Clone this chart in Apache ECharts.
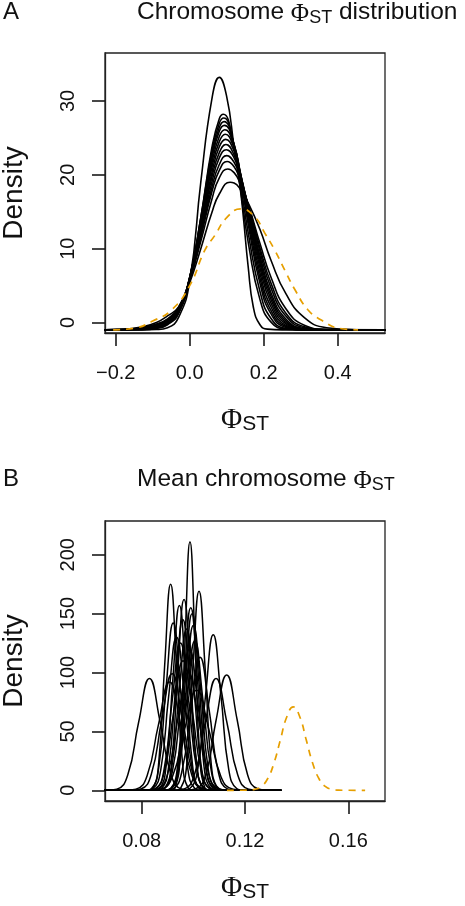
<!DOCTYPE html>
<html><head><meta charset="utf-8">
<script src="https://cdn.jsdelivr.net/npm/echarts@6.0.0/dist/echarts.min.js"></script>
<style>html,body{margin:0;padding:0;background:#fff}#main{width:465px;height:906px}</style>
</head><body><div id="main"></div>
<script>
// ---------- Panel A: chromosome PhiST distribution (density curves, [x, y] points) ----------
const aTallest = [[-0.23,-1],[-0.13,-1],[-0.09,-0.95],[-0.06,-0.7],[-0.03,0.7],[0,5.6],[0.03,19.0],[0.06,30.3],[0.08,33.2],[0.10,30.6],[0.12,23.8],[0.136,18.4],[0.145,14.3],[0.158,7.6],[0.172,2.1],[0.19,-0.3],[0.21,-0.9],[0.25,-1],[0.53,-1]];
const aF00 = [[-0.23,-1],[-0.13,-0.97],[-0.09,-0.8],[-0.06,-0.3],[-0.03,1.2],[0,5.9],[0.03,14.2],[0.06,23.7],[0.08,27.6],[0.091,28.2],[0.12,23.7],[0.136,18.5],[0.16,10.3],[0.19,3.1],[0.22,0.05],[0.26,-0.9],[0.31,-1],[0.53,-1]];
const aF01 = [[-0.23,-1],[-0.13,-0.95],[-0.09,-0.75],[-0.06,-0.2],[-0.03,1.4],[0,6.1],[0.03,14.2],[0.06,23.2],[0.08,27.0],[0.092,27.7],[0.12,24.0],[0.136,19.3],[0.16,11.6],[0.19,4.2],[0.22,0.55],[0.26,-0.81],[0.31,-0.98],[0.53,-1]];
const aF02 = [[-0.23,-1],[-0.13,-0.93],[-0.09,-0.7],[-0.06,-0.1],[-0.03,1.5],[0,6.1],[0.03,14.0],[0.06,22.7],[0.08,26.4],[0.093,27.2],[0.12,24.1],[0.136,20.0],[0.16,12.8],[0.19,5.3],[0.22,1.16],[0.26,-0.67],[0.31,-0.99],[0.53,-1]];
const aF03 = [[-0.23,-1],[-0.13,-0.92],[-0.09,-0.65],[-0.06,-0.05],[-0.03,1.6],[0,6.1],[0.03,13.7],[0.06,22.2],[0.08,25.9],[0.094,26.7],[0.12,24.1],[0.136,20.3],[0.16,13.5],[0.19,6.0],[0.22,1.6],[0.26,-0.54],[0.31,-0.97],[0.53,-1]];
const aF04 = [[-0.23,-1],[-0.13,-0.9],[-0.09,-0.6],[-0.06,0],[-0.03,1.7],[0,6.1],[0.03,13.4],[0.06,21.6],[0.08,25.2],[0.095,26.1],[0.12,23.9],[0.136,20.5],[0.16,14.1],[0.19,6.7],[0.22,2.1],[0.26,-0.38],[0.31,-0.96],[0.53,-1]];
const aF05 = [[-0.23,-1],[-0.13,-0.88],[-0.09,-0.55],[-0.06,0.1],[-0.03,1.7],[0,6.0],[0.03,13.2],[0.06,21.0],[0.08,24.5],[0.096,25.5],[0.12,23.6],[0.136,20.5],[0.16,14.5],[0.19,7.4],[0.22,2.6],[0.26,-0.19],[0.31,-0.93],[0.53,-1]];
const aF06 = [[-0.23,-1],[-0.13,-0.87],[-0.09,-0.5],[-0.06,0.15],[-0.03,1.7],[0,6.0],[0.03,12.8],[0.06,20.3],[0.08,23.8],[0.097,24.8],[0.12,23.2],[0.136,20.4],[0.16,14.9],[0.19,8.0],[0.22,3.1],[0.26,0],[0.31,-0.9],[0.37,-1],[0.53,-1]];
const aF07 = [[-0.23,-1],[-0.13,-0.85],[-0.09,-0.45],[-0.06,0.2],[-0.03,1.8],[0,5.9],[0.03,12.5],[0.06,19.7],[0.08,23.0],[0.098,24.1],[0.12,22.7],[0.136,20.3],[0.16,15.2],[0.19,8.5],[0.22,3.55],[0.26,0.23],[0.31,-0.85],[0.37,-1],[0.53,-1]];
const aF08 = [[-0.23,-1],[-0.13,-0.83],[-0.09,-0.4],[-0.06,0.25],[-0.03,1.8],[0,5.8],[0.03,12.1],[0.06,19.0],[0.08,22.3],[0.099,23.4],[0.12,22.3],[0.136,20.0],[0.16,15.3],[0.19,9.0],[0.22,4.0],[0.26,0.48],[0.31,-0.8],[0.37,-0.99],[0.53,-1]];
const aF09 = [[-0.23,-1],[-0.13,-0.8],[-0.09,-0.35],[-0.06,0.3],[-0.03,1.8],[0,5.7],[0.03,11.7],[0.06,18.3],[0.08,21.4],[0.1,22.6],[0.12,21.7],[0.136,19.7],[0.16,15.5],[0.19,9.6],[0.22,4.66],[0.26,0.87],[0.31,-0.7],[0.37,-0.98],[0.53,-1]];
const aF10 = [[-0.23,-1],[-0.13,-0.75],[-0.09,-0.3],[-0.06,0.4],[-0.03,2.0],[0,5.8],[0.03,11.6],[0.06,17.7],[0.08,20.6],[0.101,21.8],[0.12,21.1],[0.136,19.4],[0.16,15.6],[0.19,10.1],[0.22,5.3],[0.26,1.26],[0.31,-0.58],[0.37,-0.97],[0.53,-1]];
const aF11 = [[-0.23,-1],[-0.18,-0.97],[-0.13,-0.7],[-0.09,-0.2],[-0.06,0.5],[-0.03,2.0],[0,5.7],[0.03,11.0],[0.06,16.7],[0.08,19.6],[0.103,20.8],[0.12,20.3],[0.136,18.9],[0.16,15.7],[0.19,10.7],[0.22,6.1],[0.26,1.87],[0.31,-0.36],[0.37,-0.94],[0.53,-1]];
const aF12 = [[-0.23,-1],[-0.18,-0.93],[-0.13,-0.6],[-0.09,0],[-0.06,0.9],[-0.03,2.1],[0,5.4],[0.03,10.0],[0.06,14.9],[0.08,17.4],[0.109,19.0],[0.12,18.9],[0.136,18.1],[0.16,16.0],[0.19,12.6],[0.22,8.4],[0.26,3.9],[0.31,0.66],[0.37,-0.7],[0.45,-0.97],[0.53,-1]];
const aOrange = [[-0.207,-1],[-0.148,-0.75],[-0.1,0.2],[-0.049,1.7],[0,5.0],[0.041,9.8],[0.068,11.8],[0.1,14.2],[0.138,15.4],[0.176,14.3],[0.203,12.1],[0.23,9.8],[0.257,7.1],[0.285,4.4],[0.32,1.7],[0.357,0.3],[0.406,-0.8],[0.455,-1.0]];
const aXTicks = [-0.2, 0, 0.2, 0.4];
const aXLabels = ['\u22120.2', '0.0', '0.2', '0.4'];
const aYTicks = [0, 10, 20, 30];
const aYLabels = ['0', '10', '20', '30'];

// ---------- Panel B: mean chromosome PhiST (density curves, [x, y] points) ----------
const b01 = [[0.065,0],[0.0662,0],[0.0704,1.0],[0.0746,12.9],[0.0788,57.6],[0.0830,95],[0.0872,57.6],[0.0914,12.9],[0.0956,1.0],[0.0998,0],[0.134,0]];
const b02 = [[0.065,0],[0.0734,0],[0.0778,1.0],[0.0821,12.4],[0.0865,55.8],[0.0908,92],[0.0951,55.8],[0.0995,12.4],[0.1038,1.0],[0.1082,0],[0.134,0]];
const b03 = [[0.065,0],[0.0757,0],[0.0797,1.1],[0.0837,13.4],[0.0878,60.1],[0.0918,99],[0.0958,60.1],[0.0999,13.4],[0.1039,1.1],[0.1079,0],[0.134,0]];
const b04 = [[0.065,0],[0.0821,0],[0.0844,1.9],[0.0866,23.6],[0.0889,106.2],[0.0912,175],[0.0935,106.2],[0.0958,23.6],[0.0980,1.9],[0.1003,0],[0.134,0]];
const b05 = [[0.065,0],[0.0810,0],[0.0838,1.6],[0.0866,19.2],[0.0894,86.2],[0.0922,142],[0.0950,86.2],[0.0978,19.2],[0.1006,1.6],[0.1034,0],[0.134,0]];
const b06 = [[0.065,0],[0.0812,0],[0.0843,1.4],[0.0874,17.6],[0.0904,78.9],[0.0935,130],[0.0966,78.9],[0.0996,17.6],[0.1027,1.4],[0.1058,0],[0.134,0]];
const b07 = [[0.065,0],[0.0844,0],[0.0870,1.7],[0.0895,21.2],[0.0921,95.3],[0.0946,157],[0.0971,95.3],[0.0997,21.2],[0.1022,1.7],[0.1048,0],[0.134,0]];
const b08 = [[0.065,0],[0.0849,0],[0.0877,1.6],[0.0904,19.6],[0.0932,88.0],[0.0959,145],[0.0987,88.0],[0.1014,19.6],[0.1042,1.6],[0.1069,0],[0.134,0]];
const b09 = [[0.065,0],[0.0866,0],[0.0890,1.8],[0.0915,21.9],[0.0939,98.3],[0.0964,162],[0.0989,98.3],[0.1013,21.9],[0.1038,1.8],[0.1062,0],[0.134,0]];
const b10 = [[0.065,0],[0.0858,0],[0.0887,1.5],[0.0916,18.5],[0.0945,83.2],[0.0974,137],[0.1003,83.2],[0.1032,18.5],[0.1061,1.5],[0.1090,0],[0.134,0]];
const b11 = [[0.065,0],[0.0852,0],[0.0885,1.3],[0.0919,16.2],[0.0952,72.8],[0.0985,120],[0.1018,72.8],[0.1051,16.2],[0.1085,1.3],[0.1118,0],[0.134,0]];
const b12 = [[0.065,0],[0.0887,0],[0.0913,1.7],[0.0939,20.9],[0.0964,94.1],[0.0990,155],[0.1016,94.1],[0.1041,20.9],[0.1067,1.7],[0.1093,0],[0.134,0]];
const b13 = [[0.065,0],[0.0911,0],[0.0930,2.3],[0.0949,28.5],[0.0968,128.1],[0.0987,211],[0.1006,128.1],[0.1025,28.5],[0.1044,2.3],[0.1063,0],[0.134,0]];
const b14 = [[0.065,0],[0.0889,0],[0.0915,1.7],[0.0942,20.3],[0.0968,91.0],[0.0995,150],[0.1022,91.0],[0.1048,20.3],[0.1075,1.7],[0.1101,0],[0.134,0]];
const b15 = [[0.065,0],[0.0880,0],[0.0912,1.4],[0.0943,17.1],[0.0975,77.1],[0.1006,127],[0.1037,77.1],[0.1069,17.1],[0.1100,1.4],[0.1132,0],[0.134,0]];
const b16 = [[0.065,0],[0.0825,0],[0.0872,0.9],[0.0919,11.5],[0.0966,51.6],[0.1013,85],[0.1060,51.6],[0.1107,11.5],[0.1154,0.9],[0.1201,0],[0.134,0]];
const b17 = [[0.065,0],[0.0928,0],[0.0951,1.9],[0.0975,22.8],[0.0998,102.6],[0.1022,169],[0.1046,102.6],[0.1069,22.8],[0.1093,1.9],[0.1116,0],[0.134,0]];
const b18 = [[0.065,0],[0.0885,0],[0.0920,1.2],[0.0955,15.3],[0.0991,68.6],[0.1026,113],[0.1061,68.6],[0.1097,15.3],[0.1132,1.2],[0.1167,0],[0.134,0]];
const b19 = [[0.065,0],[0.0820,0],[0.0860,1.1],[0.0900,13.5],[0.0940,60.7],[0.0980,100],[0.1020,60.7],[0.1060,13.5],[0.1100,1.1],[0.1140,0],[0.134,0]];
const b20 = [[0.065,0],[0.0956,0],[0.0986,1.5],[0.1017,17.8],[0.1047,80.1],[0.1077,132],[0.1107,80.1],[0.1137,17.8],[0.1168,1.5],[0.1198,0],[0.134,0]];
const b21 = [[0.065,0],[0.0920,0],[0.0962,1.0],[0.1004,12.9],[0.1046,57.6],[0.1088,95],[0.1130,57.6],[0.1172,12.9],[0.1214,1.0],[0.1256,0],[0.134,0]];
const b22 = [[0.065,0],[0.0966,0],[0.1007,1.1],[0.1048,13.2],[0.1088,59.5],[0.1129,98],[0.1170,59.5],[0.1210,13.2],[0.1251,1.1],[0.1292,0],[0.134,0]];
const b23 = [[0.065,0],[0.0815,0],[0.0851,1.2],[0.0887,14.9],[0.0924,66.8],[0.0960,110],[0.0996,66.8],[0.1033,14.9],[0.1069,1.2],[0.1105,0],[0.134,0]];
const b24 = [[0.065,0],[0.0886,0],[0.0915,1.5],[0.0943,18.9],[0.0972,85.0],[0.1000,140],[0.1029,85.0],[0.1057,18.9],[0.1086,1.5],[0.1114,0],[0.134,0]];
const b25 = [[0.065,0],[0.0822,0],[0.0854,1.4],[0.0886,16.9],[0.0918,75.9],[0.0950,125],[0.0982,75.9],[0.1014,16.9],[0.1046,1.4],[0.1078,0],[0.134,0]];
const bOrange = [[0.113,0],[0.1187,0.02],[0.1212,0.15],[0.1237,0.8],[0.1262,3.1],[0.1287,9.6],[0.1312,23.0],[0.1337,42.9],[0.1362,62.5],[0.1387,70.8],[0.1412,62.5],[0.1437,42.9],[0.1462,23.0],[0.1487,9.6],[0.1512,3.1],[0.1537,0.8],[0.1562,0.15],[0.1587,0.02],[0.1665,0]];
const bXTicks = [0.08, 0.12, 0.16];
const bXLabels = ['0.08', '0.12', '0.16'];
const bYTicks = [0, 50, 100, 150, 200];
const bYLabels = ['0', '50', '100', '150', '200'];

const aBlackCurves = [aTallest, aF00, aF01, aF02, aF03, aF04, aF05, aF06, aF07, aF08, aF09, aF10, aF11, aF12];
const bBlackCurves = [b01, b02, b03, b04, b05, b06, b07, b08, b09, b10, b11, b12, b13, b14, b15, b16, b17, b18, b19, b20, b21, b22, b23, b24, b25];

// ---------- styling ----------
const SANS = '"Liberation Sans", Arial, Helvetica, sans-serif';
const SERIF = '"Liberation Serif", "DejaVu Serif", serif';
const INK = '#111';
const FRAME = '#222';
const ORANGE = '#E69F00';

function lookup(ticks, labels) {
  return function (v) {
    for (let i = 0; i < ticks.length; i++) if (Math.abs(ticks[i] - v) < 1e-9) return labels[i];
    return '';
  };
}
const phiRich = {
  phi: { fontFamily: SERIF, fontSize: 29, color: INK, lineHeight: 34, verticalAlign: 'bottom' },
  sub: { fontFamily: SANS, fontSize: 21, color: INK, lineHeight: 22, verticalAlign: 'bottom' }
};
const tickStyle = { color: '#1a1a1a', width: 1.6 };
function xAxisFor(grid, min, max, ticks, labels) {
  return {
    type: 'value', gridIndex: grid, min: min, max: max,
    axisLine: { show: true, onZero: false, lineStyle: { color: FRAME, width: 1.3 } },
    splitLine: { show: false },
    axisTick: { show: true, length: 13, customValues: ticks, lineStyle: tickStyle },
    axisLabel: { customValues: ticks, formatter: lookup(ticks, labels), fontSize: 20, fontFamily: SANS, color: INK, margin: 30 },
    name: '{phi|\u03A6}{sub|ST}', nameLocation: 'middle', nameGap: 68,
    nameTextStyle: { rich: phiRich }
  };
}
function yAxisFor(grid, min, max, ticks, labels) {
  return {
    type: 'value', gridIndex: grid, min: min, max: max,
    axisLine: { show: true, onZero: false, lineStyle: { color: FRAME, width: 1.3 } },
    splitLine: { show: false },
    axisTick: { show: true, length: 13, customValues: ticks, lineStyle: tickStyle },
    axisLabel: { customValues: ticks, formatter: lookup(ticks, labels), fontSize: 20, fontFamily: SANS, color: INK,
      margin: 27, rotate: 90 }
  };
}

const series = [];
aBlackCurves.forEach(function (d) {
  series.push({ type: 'line', xAxisIndex: 0, yAxisIndex: 0, data: d, smooth: 0.5, showSymbol: false, silent: true,
    lineStyle: { color: '#000', width: 1.6 } });
});
series.push({ type: 'line', xAxisIndex: 0, yAxisIndex: 0, data: aOrange, smooth: 0.5, showSymbol: false, silent: true,
  lineStyle: { color: ORANGE, width: 1.7, type: [7, 6] } });
bBlackCurves.forEach(function (d) {
  series.push({ type: 'line', xAxisIndex: 1, yAxisIndex: 1, data: d, smooth: 0.5, showSymbol: false, silent: true,
    lineStyle: { color: '#000', width: 1.5 } });
});
series.push({ type: 'line', xAxisIndex: 1, yAxisIndex: 1, data: bOrange, smooth: 0.5, showSymbol: false, silent: true,
  lineStyle: { color: ORANGE, width: 1.7, type: [7, 6] } });

const titleRich = {
  phi: { fontFamily: SERIF, fontSize: 25, color: INK, lineHeight: 30, verticalAlign: 'bottom' },
  sub: { fontFamily: SANS, fontSize: 18, color: INK, lineHeight: 19, verticalAlign: 'bottom' }
};
const gridCommon = { show: true, borderColor: FRAME, borderWidth: 1.3, backgroundColor: 'transparent', containLabel: false, outerBoundsMode: 'none' };
function densityLabel(cy) {
  return { type: 'text', x: 14, y: cy, rotation: Math.PI / 2, silent: true,
    style: { text: 'Density', fontSize: 28, fontFamily: SANS, fill: INK, align: 'center', verticalAlign: 'middle' } };
}
const chart = echarts.init(document.getElementById('main'), null, { renderer: 'canvas', width: 465, height: 906 });
chart.setOption({
  animation: false,
  title: [
    { text: 'A', left: 3, top: 0, padding: 0, textStyle: { fontSize: 24, fontWeight: 'normal', fontFamily: SANS, color: INK } },
    { text: 'Chromosome {phi|\u03A6}{sub|ST} distribution', left: 137, top: -3, padding: 0,
      textStyle: { fontSize: 24.5, fontWeight: 'normal', fontFamily: SANS, color: INK, lineHeight: 30, verticalAlign: 'bottom', rich: titleRich } },
    { text: 'B', left: 3, top: 467, padding: 0, textStyle: { fontSize: 24, fontWeight: 'normal', fontFamily: SANS, color: INK } },
    { text: 'Mean chromosome {phi|\u03A6}{sub|ST}', left: 137, top: 464, padding: 0,
      textStyle: { fontSize: 24.5, fontWeight: 'normal', fontFamily: SANS, color: INK, lineHeight: 30, verticalAlign: 'bottom', rich: titleRich } }
  ],
  graphic: [densityLabel(193), densityLabel(661)],
  grid: [
    Object.assign({ left: 105, top: 53, width: 280, height: 280 }, gridCommon),
    Object.assign({ left: 105, top: 521, width: 280, height: 280 }, gridCommon)
  ],
  xAxis: [
    xAxisFor(0, -0.229, 0.528, aXTicks, aXLabels),
    xAxisFor(1, 0.0658, 0.1742, bXTicks, bXLabels)
  ],
  yAxis: [
    yAxisFor(0, -1.42, 36.5, aYTicks, aYLabels),
    yAxisFor(1, -9.1, 228.7, bYTicks, bYLabels)
  ],
  series: series
});
</script></body></html>
